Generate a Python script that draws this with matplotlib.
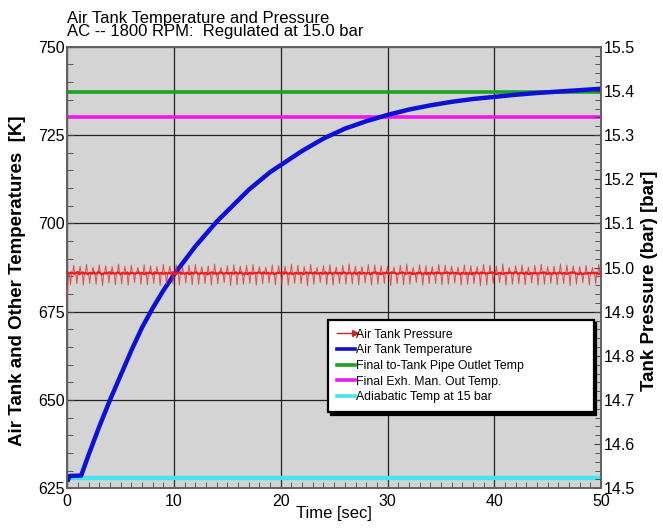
import numpy as np
import matplotlib
matplotlib.use("Agg")
import matplotlib.pyplot as plt
from matplotlib.lines import Line2D
from matplotlib.legend_handler import HandlerLine2D
from matplotlib.ticker import MultipleLocator

plt.rcParams['font.family'] = ['Liberation Sans', 'DejaVu Sans']

# ---- data -------------------------------------------------------------
# Air tank temperature [K] vs time [s]
temp_time = [0.0, 0.2, 1.3, 2, 3, 4, 5, 6, 7, 8, 9, 10, 11, 12, 13, 14, 15,
             16, 17, 18, 19, 20, 22, 24, 26, 28, 30, 32, 34, 36, 38, 40,
             42, 44, 46, 48, 50]
tank_temp = [626.9, 628.5, 628.6, 634.5, 642.5, 650.0, 657.0, 664.0, 670.5,
             676.0, 681.0, 685.5, 689.5, 693.5, 697.0, 700.5, 703.5, 706.5,
             709.5, 712.0, 714.5, 716.5, 720.5, 724.0, 726.8, 728.9, 730.7,
             732.2, 733.4, 734.4, 735.2, 735.8, 736.4, 736.9, 737.3, 737.7,
             738.1]

# Reference temperatures [K]
pipe_outlet_temp = 737.2
exh_man_out_temp = 730.0
adiabatic_temp = 627.8
ref_time = [0, 50]

# Air tank pressure [bar], sampled every 0.1 s from 0 to 50 s
pressure_dt = 0.1
tank_pressure = [
    14.932, 14.988, 14.986, 14.961, 14.989, 14.987, 15.005, 14.986, 14.988, 14.963, 14.990, 14.985,
    15.003, 14.987, 14.989, 14.960, 14.986, 14.988, 15.007, 14.985, 14.987, 14.964, 14.988, 14.986,
    15.001, 14.989, 14.986, 14.962, 14.987, 14.990, 15.006, 14.987, 14.985, 14.959, 14.986, 14.988,
    15.004, 14.986, 14.988, 14.965, 14.989, 14.986, 15.002, 14.988, 14.986, 14.961, 14.987, 14.989,
    15.008, 14.987, 14.985, 14.963, 14.988, 14.987, 15.003, 14.986, 14.989, 14.960, 14.985, 14.987,
    15.005, 14.988, 14.987, 14.966, 14.986, 14.988, 15.000, 14.989, 14.986, 14.962, 14.988, 14.986,
    15.006, 14.985, 14.988, 14.961, 14.987, 14.989, 15.004, 14.987, 14.985, 14.964, 14.989, 14.987,
    15.002, 14.988, 14.986, 14.959, 14.988, 14.986, 15.007, 14.986, 14.988, 14.962, 14.986, 14.988,
    15.003, 14.986, 14.989, 14.963, 14.987, 14.985, 15.006, 14.988, 14.987, 14.960, 14.989, 14.986,
    15.001, 14.987, 14.986, 14.965, 14.988, 14.987, 15.005, 14.985, 14.989, 14.961, 14.986, 14.988,
    15.007, 14.989, 14.987, 14.962, 14.985, 14.988, 15.002, 14.987, 14.986, 14.964, 14.988, 14.985,
    15.004, 14.986, 14.988, 14.960, 14.989, 14.986, 15.008, 14.988, 14.985, 14.963, 14.987, 14.989,
    15.000, 14.988, 14.986, 14.966, 14.987, 14.988, 15.004, 14.986, 14.987, 14.959, 14.988, 14.986,
    15.006, 14.987, 14.989, 14.961, 14.986, 14.987, 15.003, 14.989, 14.986, 14.962, 14.985, 14.988,
    15.005, 14.985, 14.987, 14.964, 14.988, 14.986, 15.007, 14.987, 14.988, 14.960, 14.987, 14.989,
    15.002, 14.988, 14.986, 14.963, 14.989, 14.987, 15.001, 14.986, 14.988, 14.965, 14.986, 14.987,
    15.006, 14.987, 14.985, 14.961, 14.987, 14.988, 15.004, 14.988, 14.987, 14.962, 14.989, 14.986,
    15.003, 14.989, 14.987, 14.960, 14.986, 14.988, 15.008, 14.985, 14.986, 14.964, 14.988, 14.987,
    15.005, 14.986, 14.988, 14.963, 14.987, 14.985, 15.002, 14.987, 14.989, 14.959, 14.986, 14.988,
    15.007, 14.988, 14.986, 14.962, 14.989, 14.987, 15.000, 14.986, 14.987, 14.966, 14.988, 14.986,
    15.004, 14.987, 14.989, 14.961, 14.985, 14.988, 15.006, 14.988, 14.986, 14.960, 14.987, 14.989,
    15.001, 14.986, 14.987, 14.964, 14.988, 14.986, 15.005, 14.989, 14.988, 14.962, 14.986, 14.987,
    15.008, 14.988, 14.986, 14.963, 14.987, 14.989, 15.003, 14.985, 14.987, 14.961, 14.989, 14.986,
    15.002, 14.987, 14.988, 14.965, 14.986, 14.987, 15.007, 14.987, 14.985, 14.960, 14.988, 14.988,
    15.006, 14.989, 14.986, 14.962, 14.988, 14.985, 15.004, 14.986, 14.988, 14.964, 14.987, 14.989,
    15.003, 14.986, 14.987, 14.959, 14.989, 14.988, 15.001, 14.988, 14.986, 14.963, 14.986, 14.987,
    15.005, 14.988, 14.989, 14.961, 14.987, 14.986, 15.008, 14.987, 14.988, 14.962, 14.988, 14.985,
    15.000, 14.987, 14.985, 14.966, 14.988, 14.987, 15.006, 14.989, 14.986, 14.960, 14.986, 14.988,
    15.004, 14.985, 14.988, 14.963, 14.986, 14.989, 15.002, 14.986, 14.987, 14.964, 14.989, 14.987,
    15.007, 14.988, 14.986, 14.961, 14.987, 14.988, 15.005, 14.988, 14.989, 14.962, 14.987, 14.986,
    15.003, 14.989, 14.987, 14.965, 14.988, 14.986, 15.001, 14.987, 14.985, 14.960, 14.988, 14.987,
    15.006, 14.986, 14.988, 14.962, 14.985, 14.988, 15.004, 14.985, 14.988, 14.963, 14.986, 14.989,
    15.002, 14.987, 14.986, 14.959, 14.989, 14.987, 15.007, 14.988, 14.986, 14.961, 14.987, 14.988,
    15.005, 14.988, 14.989, 14.964, 14.986, 14.985, 15.003, 14.986, 14.987, 14.966, 14.988, 14.986,
    15.008, 14.986, 14.987, 14.960, 14.988, 14.987, 15.000, 14.989, 14.988, 14.962, 14.986, 14.989,
    15.004, 14.989, 14.986, 14.963, 14.987, 14.988, 15.006, 14.987, 14.985, 14.961, 14.989, 14.986,
    15.001, 14.985, 14.988, 14.965, 14.986, 14.987, 15.005, 14.988, 14.986, 14.960, 14.987, 14.988,
    15.007, 14.987, 14.989, 14.962, 14.988, 14.986, 15.002, 14.986, 14.988, 14.964, 14.985, 14.987,
    15.003, 14.988, 14.986, 14.961, 14.987, 14.989, 15.008, 14.987, 14.986, 14.963, 14.988, 14.986,
    15.006, 14.986, 14.987, 14.959, 14.989, 14.988, 15.004, 14.989, 14.987, 14.962, 14.986, 14.985,
    15.002, 14.988, 14.985, 14.966, 14.986, 14.987, 15.005, 14.986, 14.988, 14.960, 14.987, 14.988,
    15.000, 14.987, 14.988, 14.963, 14.988, 14.986, 15.007, 14.985, 14.987,
]
pressure_time = np.arange(len(tank_pressure)) * pressure_dt
# samples between the pressure-valve spikes (every 1st/2nd and 4th/5th of six)
between_spikes = [k for k in range(1, len(tank_pressure)) if k % 6 not in (0, 3)]

# Axis ranges and text
time_range = (0, 50)
temp_range = (625, 750)
pressure_range = (14.5, 15.5)
title_lines = ["Air Tank Temperature and Pressure",
               "AC -- 1800 RPM:  Regulated at 15.0 bar"]
legend_labels = ["Air Tank Pressure", "Air Tank Temperature",
                 "Final to-Tank Pipe Outlet Temp",
                 "Final Exh. Man. Out Temp.", "Adiabatic Temp at 15 bar"]

# ---- colours ----------------------------------------------------------
C_PRESS = "#ee1c1c"
C_PRESS_KEY = "#c0282c"
C_TEMP = "#0c10d8"
C_PIPE = "#1ea020"
C_EXH = "#ee18ee"
C_ADIA = "#44e4f0"
C_BG = "#d4d4d4"

fig = plt.figure(figsize=(6.63, 5.29), dpi=100)
ax = fig.add_axes([0.1015, 0.0769, 0.805, 0.8348])
ax.set_facecolor(C_BG)
ax2 = ax.twinx()

# temperatures on the left axis
ax.plot(ref_time, [adiabatic_temp] * 2, color=C_ADIA, lw=3.2, zorder=3)
ax.plot(ref_time, [exh_man_out_temp] * 2, color=C_EXH, lw=2.6, zorder=3)
ax.plot(ref_time, [pipe_outlet_temp] * 2, color=C_PIPE, lw=2.6, zorder=3)
ax.plot(temp_time, tank_temp, color=C_TEMP, lw=3.2, zorder=5,
        solid_capstyle="butt")

# pressure on the right axis: thin trace with all spikes, denser core
ax2.plot(pressure_time, tank_pressure, color="#e83030", lw=0.7, alpha=0.85,
         zorder=4)
ax2.plot(pressure_time[between_spikes],
         [tank_pressure[k] for k in between_spikes],
         color=C_PRESS, lw=1.6, zorder=4)

ax.set_xlim(*time_range)
ax.set_ylim(*temp_range)
ax2.set_ylim(*pressure_range)

ax.xaxis.set_major_locator(MultipleLocator(10))
ax.xaxis.set_minor_locator(MultipleLocator(1))
ax.yaxis.set_major_locator(MultipleLocator(25))
ax.yaxis.set_minor_locator(MultipleLocator(5))
ax2.yaxis.set_major_locator(MultipleLocator(0.1))
ax2.yaxis.set_minor_locator(MultipleLocator(0.02))
ax2.yaxis.set_major_formatter(plt.FormatStrFormatter("%.1f"))

ax.grid(True, which="major", color="#202020", lw=0.9)
ax.set_axisbelow(True)

for a in (ax, ax2):
    a.tick_params(which="both", direction="in", color="#404040",
                  labelsize=11.5, pad=2)
    a.tick_params(which="major", length=5)
    a.tick_params(which="minor", length=4)
    for s in a.spines.values():
        s.set_color("#606060")
        s.set_linewidth(1.2)
ax.tick_params(axis="x", pad=4)

ax.set_xlabel("Time [sec]", fontsize=12, labelpad=-2)
ax.set_ylabel("Air Tank and Other Temperatures  [K]", fontsize=13.5,
              fontweight="bold")
ax2.set_ylabel("Tank Pressure (bar) [bar]", fontsize=13.5, fontweight="bold")
ax.yaxis.set_label_coords(-0.077, 0.47)
ax2.yaxis.set_label_coords(1.075, 0.47)

fig.text(0.101, 0.979, "\n".join(title_lines), ha="left", va="top",
         fontsize=12, linespacing=0.85)


class ArrowKey(HandlerLine2D):
    def create_artists(self, legend, orig_handle, xdescent, ydescent,
                       width, height, fontsize, trans):
        y = height / 2 - ydescent
        line = Line2D([-xdescent, width - xdescent], [y, y],
                      color=C_PRESS_KEY, lw=1.0)
        head = Line2D([width - xdescent], [y], marker=">", ms=4,
                      color=C_PRESS_KEY, lw=0)
        line.set_transform(trans)
        head.set_transform(trans)
        return [line, head]


press_key = Line2D([], [], color=C_PRESS_KEY, lw=1)
handles = [press_key,
           Line2D([], [], color=C_TEMP, lw=2.6),
           Line2D([], [], color=C_PIPE, lw=2.6),
           Line2D([], [], color=C_EXH, lw=2.6),
           Line2D([], [], color=C_ADIA, lw=2.6)]
leg = ax2.legend(handles, legend_labels, loc="upper left",
                 bbox_to_anchor=(0.489, 0.171, 0.497, 0.21), mode="expand",
                 fontsize=8.8, frameon=True, fancybox=False,
                 shadow={"color": "black", "alpha": 1.0},
                 handlelength=1.45, handletextpad=0.15, labelspacing=0.3,
                 borderpad=0.7, borderaxespad=0,
                 handler_map={press_key: ArrowKey()})
leg.get_frame().set_edgecolor("black")
leg.get_frame().set_linewidth(1.6)
leg.get_frame().set_facecolor("white")
leg.set_zorder(10)

fig.savefig("out.png", dpi=100, facecolor="white")
